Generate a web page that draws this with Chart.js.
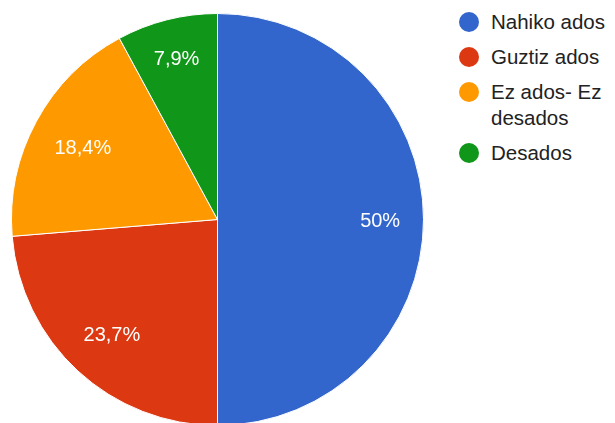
<!DOCTYPE html>
<html>
<head>
<meta charset="utf-8">
<script src="https://cdn.jsdelivr.net/npm/chart.js@4.4.0/dist/chart.umd.min.js"></script>
<style>
  html, body { margin: 0; padding: 0; background: #fff; }
  body { width: 615px; height: 423px; overflow: hidden; position: relative; font-family: "Liberation Sans", Arial, sans-serif; }
  #pie { position: absolute; left: 11px; top: 13px; width: 413px; height: 413px; }
  #legend { position: absolute; left: 459px; top: 9px; width: 156px; }
  .item { display: flex; align-items: flex-start; margin-bottom: 9px; }
  .dot { width: 20px; height: 20px; border-radius: 50%; margin-top: 3px; flex: none; }
  .txt { margin-left: 12px; width: 124px; font-size: 20.5px; line-height: 26px; color: #222; }
</style>
</head>
<body>
<div id="pie"><canvas id="c"></canvas></div>
<div id="legend"></div>
<script>
const categories = ["Nahiko ados", "Guztiz ados", "Ez ados- Ez desados", "Desados"];
const values = [50, 23.7, 18.4, 7.9];
const valueLabels = ["50%", "23,7%", "18,4%", "7,9%"];
const colors = ["#3366cc", "#dc3912", "#ff9900", "#109618"];

const legend = document.getElementById('legend');
categories.forEach((c, i) => {
  const it = document.createElement('div');
  it.className = 'item';
  const d = document.createElement('div');
  d.className = 'dot';
  d.style.background = colors[i];
  const t = document.createElement('div');
  t.className = 'txt';
  t.textContent = c;
  it.appendChild(d); it.appendChild(t);
  legend.appendChild(it);
});

// Labels placed along slice mid-angle so the far corner of the text box sits at a fixed radius
const labelPlugin = {
  id: 'sliceLabels',
  afterDatasetsDraw(chart) {
    const ctx = chart.ctx;
    const meta = chart.getDatasetMeta(0);
    const fs = 20;
    ctx.save();
    ctx.fillStyle = '#ffffff';
    ctx.font = fs + 'px "Liberation Sans", Arial, sans-serif';
    ctx.textAlign = 'center';
    ctx.textBaseline = 'alphabetic';
    meta.data.forEach((arc, i) => {
      const p = arc.getProps(['x', 'y', 'startAngle', 'endAngle', 'outerRadius'], true);
      const mid = (p.startAngle + p.endAngle) / 2;
      const ux = Math.cos(mid), uy = Math.sin(mid);
      const w = ctx.measureText(valueLabels[i]).width;
      const a = (ux >= 0 ? 1 : -1) * w / 2;
      const b = (uy >= 0 ? 1 : -1) * 10;
      const R = p.outerRadius * 0.888;
      const q = ux * a + uy * b;
      const d = -q + Math.sqrt(q * q - (a * a + b * b - R * R));
      const cx = p.x + ux * d, cy = p.y + uy * d;
      ctx.fillText(valueLabels[i], cx, cy + fs * 0.358);
    });
    ctx.restore();
  }
};

new Chart(document.getElementById('c'), {
  type: 'pie',
  data: {
    labels: categories,
    datasets: [{
      data: values,
      backgroundColor: colors,
      borderColor: '#ffffff',
      borderWidth: 1
    }]
  },
  options: {
    responsive: true,
    maintainAspectRatio: false,
    animation: false,
    layout: { padding: 0 },
    plugins: { legend: { display: false }, tooltip: { enabled: false } }
  },
  plugins: [labelPlugin]
});
</script>
</body>
</html>
